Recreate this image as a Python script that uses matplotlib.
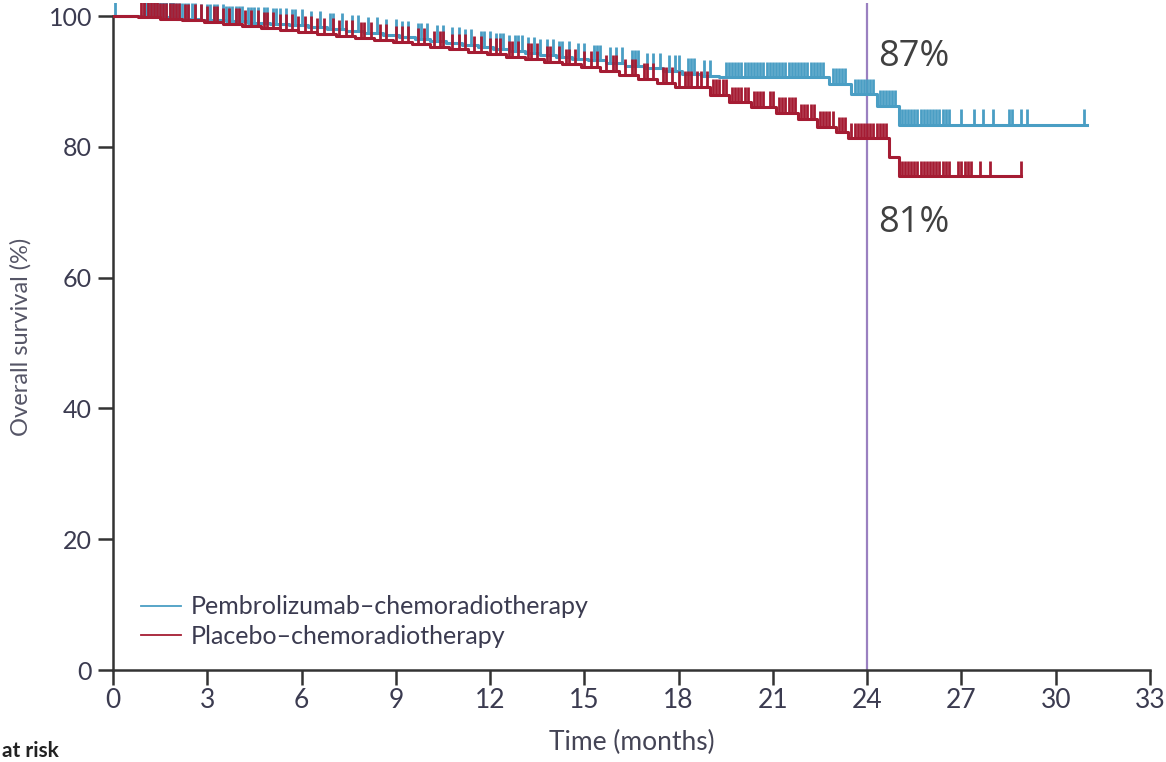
import matplotlib
matplotlib.use("Agg")
import matplotlib.pyplot as plt
import numpy as np

# ---------------- data ----------------
pembro_t = [0, 1.2, 2.0, 2.8, 3.6, 4.3, 5.0, 5.6, 6.2, 6.8, 7.4, 8.0, 8.6, 9.1, 9.6,
            10.1, 10.6, 11.1, 11.6, 12.1, 12.6, 13.1, 13.6, 14.1, 14.6, 15.1, 15.7,
            16.3, 16.9, 17.5, 18.1, 18.7, 19.3, 22.8, 23.5, 24.3, 25.0, 31.0]
pembro_s = [100, 99.8, 99.6, 99.4, 99.2, 99.0, 98.8, 98.6, 98.3, 98.0, 97.7, 97.4,
            97.1, 96.8, 96.5, 96.2, 95.9, 95.6, 95.3, 95.0, 94.7, 94.4, 94.1, 93.8,
            93.5, 93.2, 92.8, 92.4, 92.0, 91.6, 91.2, 90.9, 90.6, 89.6, 88.0, 86.3,
            83.4, 83.4]
pembro_censor = [0.05, 1.0, 1.05, 1.1, 1.2, 1.3, 1.35, 1.4, 1.5, 1.6, 1.7, 1.8, 1.85,
                 1.9, 2.0, 2.1, 2.2, 2.3, 2.4, 2.5, 2.6, 2.8, 3.0, 3.1, 3.2, 3.3, 3.5,
                 3.6, 3.7, 3.8, 3.9, 4.0, 4.1, 4.3, 4.4, 4.5, 4.6, 4.8, 4.9, 5.1, 5.2,
                 5.3, 5.5, 5.7, 5.8, 6.0, 6.3, 6.6, 6.9, 7.0, 7.3, 7.6, 7.8, 8.1, 8.4,
                 8.7, 9.0, 9.2, 9.4, 9.7, 9.8, 10.0, 10.3, 10.5, 10.8, 11.0, 11.2, 11.4,
                 11.7, 11.8, 12.0, 12.2, 12.3, 12.4, 12.6, 12.8, 12.9, 13.0, 13.2, 13.4,
                 13.6, 13.8, 14.0, 14.2, 14.3, 14.5, 14.8, 15.0, 15.3, 15.4, 15.5, 15.8,
                 16.0, 16.2, 16.5, 16.6, 16.7, 17.0, 17.2, 17.4, 17.7, 17.9, 18.0, 18.3,
                 18.4, 18.5, 18.8, 19.0, 19.5, 19.6, 19.7, 19.8, 19.9, 20.0, 20.1, 20.2,
                 20.3, 20.4, 20.5, 20.6, 20.7, 20.8, 20.9, 21.0, 21.1, 21.2, 21.3, 21.4,
                 21.5, 21.6, 21.7, 21.8, 21.9, 22.0, 22.1, 22.2, 22.3, 22.4, 22.5, 22.6,
                 22.9, 23.0, 23.1, 23.2, 23.3, 23.6, 23.7, 23.8, 23.9, 24.0, 24.1, 24.2,
                 24.4, 24.5, 24.6, 24.7, 24.8, 24.9, 25.1, 25.2, 25.3, 25.4, 25.5, 25.6,
                 25.7, 25.8, 25.9, 26.0, 26.1, 26.2, 26.3, 26.4, 26.5, 26.6, 27.0, 27.4,
                 27.7, 28.0, 28.5, 28.6, 28.9, 29.1, 30.9]

placebo_t = [0, 0.8, 1.5, 2.2, 2.9, 3.5, 4.1, 4.7, 5.3, 5.9, 6.5, 7.1, 7.7, 8.3, 8.9,
             9.5, 10.1, 10.7, 11.3, 11.9, 12.5, 13.1, 13.7, 14.3, 14.9, 15.5, 16.1,
             16.7, 17.3, 17.9, 19.0, 19.6, 20.3, 21.1, 21.8, 22.4, 23.0, 23.4, 24.7,
             25.0, 28.9]
placebo_s = [100, 99.8, 99.6, 99.4, 99.1, 98.8, 98.5, 98.2, 97.9, 97.6, 97.3, 97.0,
             96.7, 96.4, 96.1, 95.7, 95.3, 94.9, 94.5, 94.2, 93.8, 93.4, 93.0, 92.6,
             92.2, 91.6, 91.0, 90.4, 89.8, 89.2, 87.9, 86.8, 86.1, 85.2, 84.2, 83.0,
             82.2, 81.3, 78.5, 75.5, 75.5]
placebo_censor = [0.9, 1.0, 1.1, 1.2, 1.3, 1.4, 1.5, 1.6, 1.7, 1.8, 1.9, 2.0, 2.1, 2.3,
                  2.4, 2.6, 2.8, 3.0, 3.2, 3.3, 3.5, 3.7, 3.9, 4.0, 4.2, 4.4, 4.6, 4.8,
                  4.9, 5.1, 5.3, 5.5, 5.7, 5.9, 6.1, 6.3, 6.5, 6.7, 7.0, 7.2, 7.4, 7.6,
                  7.9, 8.0, 8.2, 8.5, 8.7, 9.0, 9.2, 9.4, 9.7, 9.9, 10.2, 10.4, 10.5,
                  10.8, 11.0, 11.2, 11.5, 11.7, 12.0, 12.2, 12.3, 12.6, 12.7, 12.9,
                  13.2, 13.3, 13.5, 13.8, 13.9, 14.2, 14.4, 14.5, 14.7, 15.0, 15.2,
                  15.4, 15.7, 15.9, 16.0, 16.3, 16.5, 16.6, 16.9, 17.0, 17.2, 17.5,
                  17.6, 17.8, 18.0, 18.2, 18.3, 18.4, 18.6, 18.7, 18.9, 19.1, 19.2,
                  19.3, 19.4, 19.5, 19.7, 19.8, 19.9, 20.0, 20.1, 20.2, 20.4, 20.5,
                  20.6, 20.7, 20.9, 21.0, 21.2, 21.3, 21.4, 21.5, 21.6, 21.7, 21.9,
                  22.0, 22.1, 22.2, 22.3, 22.5, 22.6, 22.7, 22.8, 22.9, 23.1, 23.2,
                  23.3, 23.5, 23.6, 23.7, 23.8, 23.9, 24.0, 24.1, 24.2, 24.3, 24.4,
                  24.5, 24.6, 25.1, 25.2, 25.3, 25.4, 25.5, 25.6, 25.7, 25.8, 25.9,
                  26.0, 26.1, 26.2, 26.3, 26.4, 26.5, 26.6, 26.9, 27.0, 27.1, 27.2,
                  27.3, 27.6, 27.9, 28.9]

xticks = [0, 3, 6, 9, 12, 15, 18, 21, 24, 27, 30, 33]
yticks = [0, 20, 40, 60, 80, 100]
label_pembro = "Pembrolizumab\u2013chemoradiotherapy"
label_placebo = "Placebo\u2013chemoradiotherapy"
mark_time = 24
ann_pembro = "87%"
ann_placebo = "81%"

# ---------------- style ----------------
blue = "#4a9ec4"
red = "#a51c33"
purple = "#9a80c0"
txt = "#3b3b50"

plt.rcParams['font.family'] = ['Lato', 'DejaVu Sans']

fig = plt.figure(figsize=(11.66, 7.62), dpi=100)
W, H = 1166, 762
x0_px, x33_px = 113, 1150
y0_px = 670
px_per_pct = 6.54
ytop = 102
ax = fig.add_axes([x0_px / W, 1 - y0_px / H, (x33_px - x0_px) / W,
                   ytop * px_per_pct / H])
ax.set_xlim(0, 33)
ax.set_ylim(0, ytop)


def step_value(ts, ss, x):
    idx = np.searchsorted(ts, x, side='right') - 1
    return np.asarray(ss)[idx]


for ts, ss, cens, col, lab in [(pembro_t, pembro_s, pembro_censor, blue, label_pembro),
                               (placebo_t, placebo_s, placebo_censor, red, label_placebo)]:
    ax.step(ts, ss, where='post', color=col, lw=2.2, label=lab, zorder=3)
    cy = step_value(ts, ss, np.asarray(cens))
    ax.vlines(cens, cy, cy + 2.4, color=col, lw=2.0, zorder=3)

ax.axvline(mark_time, color=purple, lw=1.6, zorder=2)

ax.text(24.35, 93.7, ann_pembro, fontsize=26, color="#404040", va='center', ha='left',
        family=['Open Sans', 'DejaVu Sans'])
ax.text(24.35, 68.3, ann_placebo, fontsize=26, color="#404040", va='center', ha='left',
        family=['Open Sans', 'DejaVu Sans'])

for s in ['top', 'right']:
    ax.spines[s].set_visible(False)
ax.spines['left'].set_bounds(0, 100)
ax.spines['bottom'].set_bounds(0, 33)
for s in ['left', 'bottom']:
    ax.spines[s].set_color('#333333')
    ax.spines[s].set_linewidth(1.8)

ax.set_xticks(xticks)
ax.set_yticks(yticks)
ax.tick_params(axis='x', length=11, width=1.8, color='#333333', labelsize=19,
               labelcolor=txt, pad=2)
ax.tick_params(axis='y', length=11, width=1.8, color='#333333', labelsize=18,
               labelcolor=txt, pad=4)

ax.set_xlabel("Time (months)", fontsize=19, color="#444455", labelpad=12)
ax.set_ylabel("Overall survival (%)", fontsize=17, color="#555566", labelpad=12)

leg = ax.legend(loc='lower left', bbox_to_anchor=(0.005, 0.0), frameon=False,
                fontsize=18, handlelength=1.6, handletextpad=0.4,
                labelspacing=0.25)
for t in leg.get_texts():
    t.set_color(txt)
for l in leg.get_lines():
    l.set_linewidth(1.3)

fig.text(2 / W, 1 - 761 / H, "at risk", ha='left', va='bottom', fontsize=15,
         fontweight='bold', color='#222222')

fig.savefig("out.png", dpi=100)
